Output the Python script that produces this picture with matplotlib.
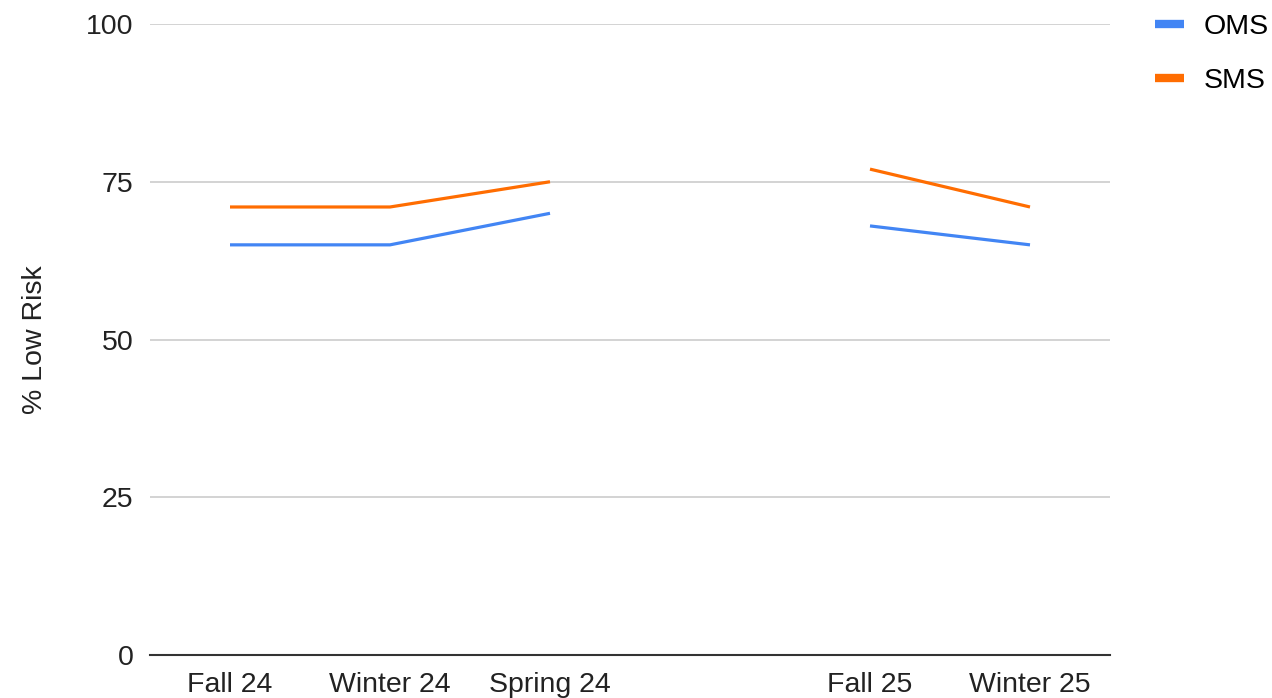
import numpy as np
import matplotlib.pyplot as plt

plt.rcParams['font.family'] = ['Liberation Sans', 'DejaVu Sans']

terms = ["Fall 24", "Winter 24", "Spring 24", "", "Fall 25", "Winter 25"]
oms = [65, 65, 70, np.nan, 68, 65]
sms = [71, 71, 75, np.nan, 77, 71]
yticks = [0, 25, 50, 75, 100]

fig = plt.figure(figsize=(12.72, 6.98), dpi=100)
ax = fig.add_axes([150 / 1272, 43 / 698, 960 / 1272, 631 / 698])

x = np.arange(len(terms))
ax.plot(x, oms, color="#4285F4", lw=2.3, label="OMS", solid_capstyle="butt")
ax.plot(x, sms, color="#FF6D01", lw=2.3, label="SMS", solid_capstyle="butt")

ax.set_xlim(-0.5, len(terms) - 0.5)
ax.set_ylim(0, 100)
ax.set_xticks(x)
ax.set_xticklabels(terms)
ax.set_yticks(yticks)
ax.tick_params(axis="both", length=0, labelsize=20.5, colors="#222222")
ax.tick_params(axis="x", pad=12)
ax.tick_params(axis="y", pad=12)
ax.grid(axis="y", color="#cccccc", lw=1.2)
ax.set_axisbelow(True)
for s in ["top", "right", "left"]:
    ax.spines[s].set_visible(False)
ax.spines["bottom"].set_color("#333333")
ax.spines["bottom"].set_linewidth(1.5)
ax.set_ylabel("% Low Risk", fontsize=20.5, color="#222222", labelpad=27)

leg = ax.legend(loc="upper left", bbox_to_anchor=(1.047, 1.016), frameon=False,
                borderaxespad=0, borderpad=0, fontsize=20.5, handlelength=1.0,
                handletextpad=0.7, labelspacing=1.0)
for h in leg.get_lines():
    h.set_linewidth(6)

fig.savefig("out.png", dpi=100)
